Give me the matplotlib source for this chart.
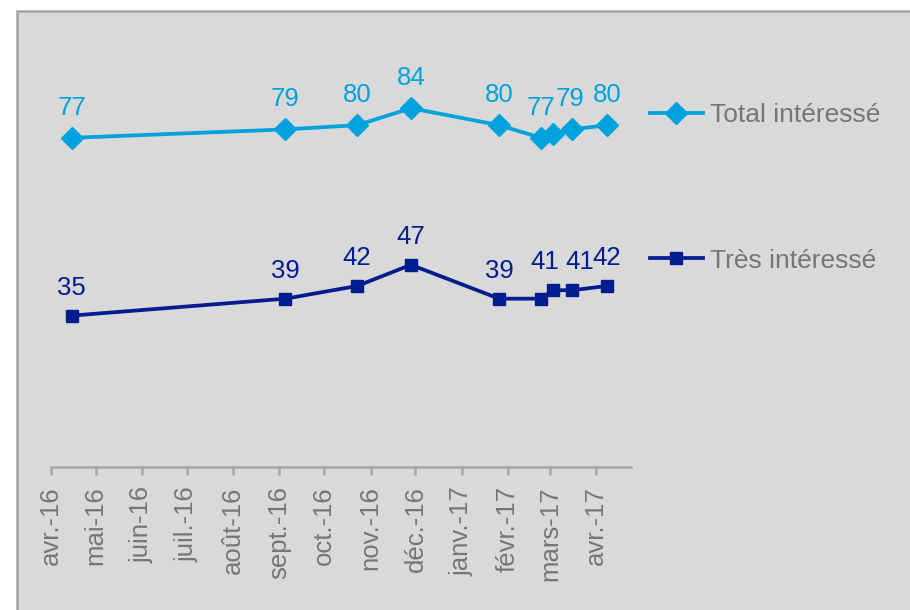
import numpy as np
import matplotlib
matplotlib.use("Agg")
import matplotlib.pyplot as plt
import matplotlib.patches as mpatches
from datetime import datetime

# donnees
dates = ["2016-04-15", "2016-09-05", "2016-10-23", "2016-11-28", "2017-01-26",
         "2017-02-23", "2017-03-03", "2017-03-16", "2017-04-08"]
total_interesse = [77, 79, 80, 84, 80, 77, 78, 79, 80]
tres_interesse = [35, 39, 42, 47, 39, 39, 41, 41, 42]

# etiquettes affichees (None = masquee) et petit decalage horizontal (px)
total_labels = ["77", "79", "80", "84", "80", "77", None, "79", "80"]
total_dx = [0, 0, 0, 0, 0, 0, 0, -2, 0]
tres_labels = ["35", "39", "42", "47", "39", None, "41", "41", "42"]
tres_dx = [0, 0, 0, 0, 0, 0, -8, 7, 0]

tick_labels = ["avr.-16", "mai-16", "juin-16", "juil.-16", "août-16", "sept.-16",
               "oct.-16", "nov.-16", "déc.-16", "janv.-17", "févr.-17", "mars-17",
               "avr.-17"]

c_total = "#00a2de"
c_tres = "#001c8e"
c_gris = "#767676"

plt.rcParams['font.family'] = ['Liberation Sans', 'DejaVu Sans']

x = [datetime.strptime(d, "%Y-%m-%d") for d in dates]

fig = plt.figure(figsize=(9.1, 6.1), dpi=100)
fig.patch.set_facecolor("white")
fond = mpatches.Rectangle((16.5 / 910, -0.1), 1.2, (610 - 11.5) / 610 + 0.1,
                          transform=fig.transFigure, facecolor="#d9d9d9",
                          edgecolor="#a3a3a3", lw=1.8, zorder=-10)
fig.patches.append(fond)

ax = fig.add_axes([50.7 / 910, 1 - 466.7 / 610, 580 / 910, 430 / 610])
ax.set_facecolor("none")

l1, = ax.plot(x, total_interesse, color=c_total, lw=2.7, marker="D", ms=11,
              label="Total intéressé")
l2, = ax.plot(x, tres_interesse, color=c_tres, lw=2.7, marker="s", ms=8.5,
              label="Très intéressé")

for xi, v, lab, dx in zip(x, total_interesse, total_labels, total_dx):
    if lab:
        ax.annotate(lab, (xi, v), xytext=(dx, 30), textcoords="offset pixels",
                    ha="center", va="center", color=c_total, fontsize=18.5)
for xi, v, lab, dx in zip(x, tres_interesse, tres_labels, tres_dx):
    if lab:
        ax.annotate(lab, (xi, v), xytext=(dx, 28), textcoords="offset pixels",
                    ha="center", va="center", color=c_tres, fontsize=18.5)

ax.set_ylim(-0.7, 100.9)
ax.set_xlim(datetime(2016, 4, 1), datetime(2017, 4, 24))
ticks = [datetime(2016 + (3 + i) // 12, (3 + i) % 12 + 1, 1) for i in range(13)]
ax.set_xticks(ticks)
ax.set_xticklabels(tick_labels, rotation=90, color=c_gris, fontsize=18.5)
ax.set_yticks([])

for s in ["left", "top", "right"]:
    ax.spines[s].set_visible(False)
ax.spines["bottom"].set_color("#a6a6a6")
ax.spines["bottom"].set_linewidth(1.8)
ax.tick_params(axis="x", colors="#a6a6a6", length=6, width=1.8, pad=8,
               labelcolor=c_gris)

leg = fig.legend(handles=[l1, l2], loc="center left",
                 bbox_to_anchor=(650 / 910, 1 - 188 / 610), frameon=False,
                 fontsize=19, labelspacing=4.6, handlelength=2.0,
                 handletextpad=0.27, borderpad=0, borderaxespad=0)
for t in leg.get_texts():
    t.set_color(c_gris)

fig.savefig("out.png", dpi=100)
